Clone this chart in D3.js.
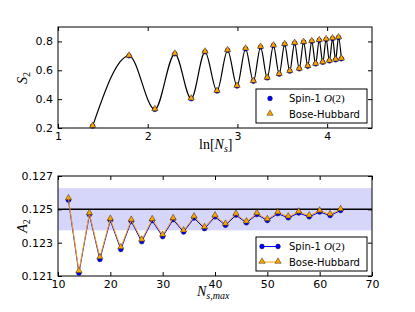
<!DOCTYPE html>
<html>
<head>
<meta charset="utf-8">
<script src="https://cdn.jsdelivr.net/npm/d3@7"></script>
<style>
  body { margin: 0; background: #fff; }
  svg { display: block; }
  .tick text { font-family: "DejaVu Sans", sans-serif; font-size: 11px; fill: #000; }
  .math { font-family: "Liberation Serif", serif; }
</style>
</head>
<body>
<svg id="chart"></svg>
<script>
// top panel: Renyi entropy vs ln N
var sizesTop = [4, 6, 8, 10, 12, 14, 16, 18, 20, 22, 24, 26, 28, 30, 32, 34, 36, 38, 40, 42, 44, 46, 48, 50, 52, 54, 56, 58, 60, 62, 64]
var s2Spin = [0.213, 0.700, 0.329, 0.714, 0.403, 0.728, 0.456, 0.738, 0.491, 0.749, 0.524, 0.761, 0.547, 0.771, 0.573, 0.780, 0.594, 0.788, 0.610, 0.795, 0.628, 0.801, 0.644, 0.808, 0.655, 0.814, 0.665, 0.820, 0.673, 0.827, 0.680]
var s2Bose = [0.213, 0.700, 0.329, 0.714, 0.403, 0.728, 0.456, 0.738, 0.491, 0.749, 0.524, 0.761, 0.547, 0.771, 0.573, 0.780, 0.594, 0.788, 0.610, 0.795, 0.628, 0.801, 0.644, 0.808, 0.655, 0.814, 0.665, 0.820, 0.673, 0.827, 0.680]

// bottom panel: A2 vs N_s,max
var sizesBottom = [12, 14, 16, 18, 20, 22, 24, 26, 28, 30, 32, 34, 36, 38, 40, 42, 44, 46, 48, 50, 52, 54, 56, 58, 60, 62, 64]
var a2Spin = [0.12555, 0.12117, 0.12468, 0.12199, 0.12434, 0.12259, 0.12428, 0.12306, 0.12432, 0.12336, 0.12438, 0.12364, 0.12448, 0.12384, 0.12455, 0.12404, 0.12465, 0.12419, 0.12469, 0.12433, 0.12474, 0.12449, 0.12478, 0.12455, 0.12484, 0.12463, 0.12493]
var a2Bose = [0.12565, 0.12128, 0.12476, 0.12211, 0.12442, 0.12271, 0.12436, 0.12317, 0.12440, 0.12346, 0.12446, 0.12372, 0.12456, 0.12392, 0.12462, 0.12412, 0.12472, 0.12426, 0.12476, 0.12440, 0.12481, 0.12456, 0.12485, 0.12462, 0.12491, 0.12470, 0.12500]
var a2Exact = 0.125
var a2Band = [0.12374, 0.12627]

var seriesNames = ["Spin-1 ", "Bose-Hubbard"]
var topXTicks = [1, 2, 3, 4]
var topYTicks = [0.2, 0.4, 0.6, 0.8]
var botXTicks = [10, 20, 30, 40, 50, 60, 70]
var botYTicks = [0.121, 0.123, 0.125, 0.127]

var blue = "#0000ff", orange = "#ffa500", band = "#d6d6fa"

var svg = d3.select("#chart").attr("width", 415).attr("height", 312)

var left = 58, right = 372

function frame(x, y, xt, yt, xfmt, yfmt) {
  var top = y.range()[1], bottom = y.range()[0]
  svg.append("g").attr("transform", `translate(0,${bottom})`)
    .call(d3.axisBottom(x).tickValues(xt).tickSize(-4).tickPadding(4).tickFormat(xfmt))
  svg.append("g").attr("transform", `translate(0,${top})`)
    .call(d3.axisTop(x).tickValues(xt).tickSize(-4).tickFormat(""))
  svg.append("g").attr("transform", `translate(${left},0)`)
    .call(d3.axisLeft(y).tickValues(yt).tickSize(-4).tickPadding(5).tickFormat(yfmt))
  svg.append("g").attr("transform", `translate(${right},0)`)
    .call(d3.axisRight(y).tickValues(yt).tickSize(-4).tickFormat(""))
  svg.selectAll(".domain").remove()
  svg.selectAll(".tick line").attr("stroke", "#000")
  svg.append("rect").attr("x", left).attr("y", top)
    .attr("width", right - left).attr("height", bottom - top)
    .attr("fill", "none").attr("stroke", "#000").attr("stroke-width", 1)
}

var tri = d3.symbol().type(d3.symbolTriangle).size(17)

function markers(g, xs, ys, x, y, kind) {
  var pts = xs.map((d, i) => [x(d), y(ys[i])])
  if (kind == "circle") {
    g.selectAll(null).data(pts).enter().append("circle")
      .attr("cx", d => d[0]).attr("cy", d => d[1]).attr("r", 2.4)
      .attr("fill", blue).attr("stroke", "#000").attr("stroke-width", 0.4)
  } else {
    g.selectAll(null).data(pts).enter().append("path")
      .attr("d", tri).attr("transform", d => `translate(${d[0]},${d[1] - 0.5})`)
      .attr("fill", orange).attr("stroke", "#000").attr("stroke-width", 0.4)
  }
}

function legend(bx, by, withLines) {
  var g = svg.append("g")
  g.append("rect").attr("x", bx).attr("y", by).attr("width", 111).attr("height", 34)
    .attr("fill", "#fff").attr("stroke", "#000").attr("stroke-width", 1)
  ;["circle", "tri"].forEach(function (k, i) {
    var yy = by + 9.5 + i * 15.5
    var col = k == "circle" ? blue : orange
    var xs = withLines ? [bx + 6, bx + 22] : [bx + 14]
    if (withLines) g.append("line").attr("x1", xs[0]).attr("x2", xs[1]).attr("y1", yy).attr("y2", yy)
      .attr("stroke", col).attr("stroke-width", 1)
    xs.forEach(function (xx) {
      if (k == "circle") g.append("circle").attr("cx", xx).attr("cy", yy).attr("r", 2.4)
        .attr("fill", blue).attr("stroke", "#000").attr("stroke-width", 0.4)
      else g.append("path").attr("d", tri).attr("transform", `translate(${xx},${yy - 0.5})`)
        .attr("fill", orange).attr("stroke", "#000").attr("stroke-width", 0.4)
    })
    var t = g.append("text").attr("x", bx + 33).attr("y", yy + 3.5)
      .style("font-family", "DejaVu Sans").style("font-size", "10px").text(seriesNames[i])
    if (i == 0) {
      t.append("tspan").attr("class", "math").style("font-style", "italic").style("font-size", "11px").text("O")
      t.append("tspan").attr("class", "math").style("font-size", "11px").text("(2)")
    }
  })
}

// ---- top panel
var xTop = d3.scaleLinear().domain([1, 4.5]).range([left, right])
var yTop = d3.scaleLinear().domain([0.2, 0.9]).range([128, 27])
frame(xTop, yTop, topXTicks, topYTicks, d3.format("d"), d3.format(".1f"))

var curve = d3.line().curve(d3.curveMonotoneX)
  .x((d, i) => xTop(Math.log(sizesTop[i]))).y(d => yTop(d))
svg.append("path").datum(s2Bose).attr("d", curve)
  .attr("fill", "none").attr("stroke", "#000").attr("stroke-width", 1.2)
var gTop = svg.append("g")
markers(gTop, sizesTop.map(Math.log), s2Spin, xTop, yTop, "circle")
markers(gTop, sizesTop.map(Math.log), s2Bose, xTop, yTop, "tri")
legend(256, 89, false)

var lab1 = svg.append("text").attr("class", "math").attr("x", 199).attr("y", 149)
  .style("font-size", "14px").text("ln[")
lab1.append("tspan").style("font-style", "italic").text("N")
lab1.append("tspan").style("font-style", "italic").style("font-size", "10px").attr("dy", 3).text("s")
lab1.append("tspan").attr("dy", -3).text("]")
var s2lab = svg.append("text").attr("class", "math")
  .attr("transform", "translate(27,78) rotate(-90)").attr("text-anchor", "middle")
  .style("font-size", "14px").style("font-style", "italic").text("S")
s2lab.append("tspan").style("font-size", "10px").style("font-style", "normal").attr("dy", 3).text("2")

// ---- bottom panel
var xBot = d3.scaleLinear().domain([10, 70]).range([left, right])
var yBot = d3.scaleLinear().domain([0.121, 0.127]).range([276, 176])

svg.append("rect").attr("x", left).attr("y", yBot(a2Band[1]))
  .attr("width", right - left).attr("height", yBot(a2Band[0]) - yBot(a2Band[1]))
  .attr("fill", band)
svg.append("line").attr("x1", left).attr("x2", right)
  .attr("y1", yBot(a2Exact)).attr("y2", yBot(a2Exact))
  .attr("stroke", "#000").attr("stroke-width", 1.5)

frame(xBot, yBot, botXTicks, botYTicks, d3.format("d"), d3.format(".3f"))

var lineB = d3.line().x((d, i) => xBot(sizesBottom[i])).y(d => yBot(d))
svg.append("path").datum(a2Spin).attr("d", lineB)
  .attr("fill", "none").attr("stroke", blue).attr("stroke-width", 1)
var gBot = svg.append("g")
markers(gBot, sizesBottom, a2Spin, xBot, yBot, "circle")
svg.append("path").datum(a2Bose).attr("d", lineB)
  .attr("fill", "none").attr("stroke", orange).attr("stroke-width", 1)
var gBot2 = svg.append("g")
markers(gBot2, sizesBottom, a2Bose, xBot, yBot, "tri")
legend(256, 237, true)

var lab2 = svg.append("text").attr("class", "math").attr("x", 197).attr("y", 296)
  .style("font-size", "14px").style("font-style", "italic").text("N")
lab2.append("tspan").style("font-size", "10px").attr("dy", 3).text("s,max")
var a2lab = svg.append("text").attr("class", "math")
  .attr("transform", "translate(27,226) rotate(-90)").attr("text-anchor", "middle")
  .style("font-size", "14px").style("font-style", "italic").text("A")
a2lab.append("tspan").style("font-size", "10px").style("font-style", "normal").attr("dy", 3).text("2")
</script>
</body>
</html>
